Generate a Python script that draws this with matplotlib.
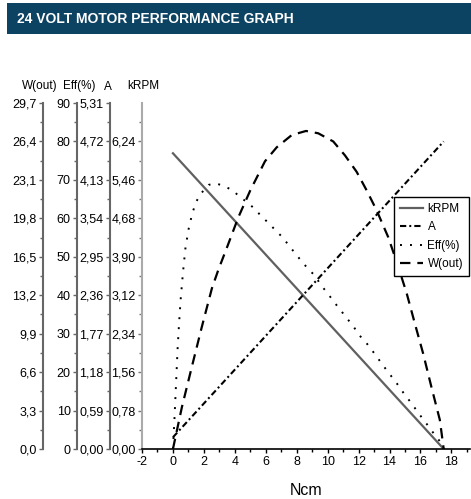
import numpy as np
import matplotlib
matplotlib.use("Agg")
import matplotlib.pyplot as plt
from matplotlib.patches import Rectangle

plt.rcParams['font.family'] = ['Liberation Sans', 'DejaVu Sans']
plt.rcParams['lines.scale_dashes'] = False
plt.rcParams['axes.unicode_minus'] = False

# data (x = torque in Ncm)
rpm_x = [0, 17.5]
rpm_y = [6.0, 0.0]

amp_x = [0, 17.5]
amp_y = [0.18, 4.72]

eff_x = [0, 0.1, 0.2, 0.3, 0.4, 0.5, 0.65, 0.8, 1.0, 1.25, 1.5, 1.8, 2.3, 2.8,
         3.4, 3.9, 4.3, 4.8, 5.3, 5.7, 6.2, 6.6, 7.1, 7.5, 7.9, 8.3, 8.75, 9.2,
         9.55, 10.0, 10.4, 10.8, 11.2, 11.65, 12.0, 12.5, 12.9, 13.3, 13.7,
         14.1, 14.5, 14.9, 15.3, 15.7, 16.1, 16.5, 16.9, 17.35, 17.5]
eff_y = [0, 8, 17, 26, 33, 39, 46, 52, 57, 61.3, 64.3, 66.4, 68.7, 69.1,
         68.2, 67.2, 65.6, 64.2, 62.4, 60.6, 58.7, 57.0, 55.0, 52.9, 50.9, 48.9, 46.8, 45.0,
         42.7, 40.5, 38.3, 36.3, 34.2, 32.0, 29.8, 27.6, 25.5, 23.3, 21.1,
         19.0, 16.9, 14.6, 12.5, 10.3, 8.1, 6.0, 3.8, 1.5, 0]

pow_x = [0, 0.58, 1.23, 1.87, 2.52, 2.94, 3.52, 4.23, 5.0, 5.95, 6.71, 7.68, 8.6,
         9.39, 10.36, 11.12, 11.87, 12.52, 13.16, 13.91, 14.5, 15.1, 15.63, 16.17,
         16.71, 17.25, 17.5]
pow_y = [0, 3.6, 7.1, 10.5, 13.8, 15.4, 17.4, 19.9, 22.2, 24.7, 25.9, 26.95, 27.3,
         27.1, 26.4, 25.2, 23.8, 22.2, 20.5, 18.2, 15.9, 13.4, 10.8, 8.2,
         5.3, 2.5, 0]

# axis tick labels
rpm_ticks = ['0,00', '0,78', '1,56', '2,34', '3,12', '3,90', '4,68', '5,46', '6,24']
amp_ticks = ['0,00', '0,59', '1,18', '1,77', '2,36', '2,95', '3,54', '4,13', '4,72', '5,31']
eff_ticks = ['0', '10', '20', '30', '40', '50', '60', '70', '80', '90']
pow_ticks = ['0,0', '3,3', '6,6', '9,9', '13,2', '16,5', '19,8', '23,1', '26,4', '29,7']

fig = plt.figure(figsize=(4.71, 4.99), dpi=100)

# header bar
fig.patches.append(Rectangle((7/471, 1-34/499), 464/471, 31/499, transform=fig.transFigure,
                             facecolor='#0c4262', edgecolor='none'))
fig.text(17/471, 1-19/499, '24 VOLT MOTOR PERFORMANCE GRAPH', color='white',
         fontsize=10, fontweight='bold', va='center', ha='left')

ax = fig.add_axes([142/471, 50/499, 328/471, 346/499])
ax.set_xlim(-2, 19.2)
ax.set_ylim(0, 7.02)
for s in ['top', 'right']:
    ax.spines[s].set_visible(False)
ax.spines['left'].set_color('#aaaaaa')
ax.spines['left'].set_linewidth(1.5)
ax.spines['bottom'].set_color('black')
ax.spines['bottom'].set_linewidth(1.2)
ax.set_xticks(np.arange(-2, 19, 2))
ax.set_xticks(np.arange(-1, 20, 2), minor=True)
ax.set_yticks(np.arange(9) * 0.78)
ax.set_yticklabels(rpm_ticks)
ax.set_yticks(np.arange(9) * 0.78 + 0.39, minor=True)
ax.tick_params(axis='x', which='major', length=3, width=1, labelsize=9, pad=2)
ax.tick_params(axis='x', which='minor', length=2, width=1)
ax.tick_params(axis='y', which='major', length=3, width=1, color='#777777', labelsize=9, pad=1.5)
ax.tick_params(axis='y', which='minor', length=2, width=1, color='#777777')
ax.set_xlabel('Ncm', fontsize=11.5, labelpad=11)

def side_axis(offset_px, top, step, labels):
    a = ax.twinx()
    a.set_ylim(0, top)
    a.yaxis.tick_left()
    for s in ['top', 'right', 'bottom']:
        a.spines[s].set_visible(False)
    a.spines['left'].set_visible(True)
    a.spines['left'].set_position(('outward', offset_px * 0.72))
    a.spines['left'].set_color('#666666')
    a.spines['left'].set_linewidth(1.5)
    a.set_yticks(np.arange(len(labels)) * step)
    a.set_yticklabels(labels)
    a.set_yticks(np.arange(len(labels) - 1) * step + step / 2, minor=True)
    a.tick_params(axis='y', which='major', length=3, width=1, color='#666666', labelsize=9, pad=1.5)
    a.tick_params(axis='y', which='minor', length=2, width=1, color='#666666')
    return a

ax_a = side_axis(32, 5.31, 0.59, amp_ticks)
ax_e = side_axis(65, 90, 10, eff_ticks)
ax_w = side_axis(99, 29.7, 3.3, pow_ticks)

l1, = ax.plot(rpm_x, rpm_y, color='#606060', lw=1.6, label='kRPM')
l2, = ax_a.plot(amp_x, amp_y, color='black', lw=1.5, dashes=(4.5, 2.2, 1.4, 2.2), label='A')
l3, = ax_e.plot(eff_x, eff_y, color='black', lw=1.4, dashes=(1.4, 5.8), label='Eff(%)')
l4, = ax_w.plot(pow_x, pow_y, color='black', lw=1.6, dashes=(7.5, 5), label='W(out)')

# axis titles above the y axes
fig.text(58/471, 1-86/499, 'W(out)', fontsize=8.5, ha='right', va='center')
fig.text(63/471, 1-86/499, 'Eff(%)', fontsize=8.5, ha='left', va='center')
fig.text(108/471, 1-87/499, 'A', fontsize=8.5, ha='center', va='center')
fig.text(143/471, 1-86/499, 'kRPM', fontsize=8.5, ha='center', va='center')

leg = fig.legend([l1, l2, l3, l4], ['kRPM', 'A', 'Eff(%)', 'W(out)'],
                 loc='upper right', bbox_to_anchor=(469/471, 1-197/499),
                 bbox_transform=fig.transFigure, fontsize=8.5, fancybox=False,
                 framealpha=1, edgecolor='black', handlelength=1.9, handletextpad=0.4,
                 borderpad=0.5, labelspacing=0.55, borderaxespad=0)
leg.get_frame().set_linewidth(1)

plt.savefig('out.png', dpi=100)
